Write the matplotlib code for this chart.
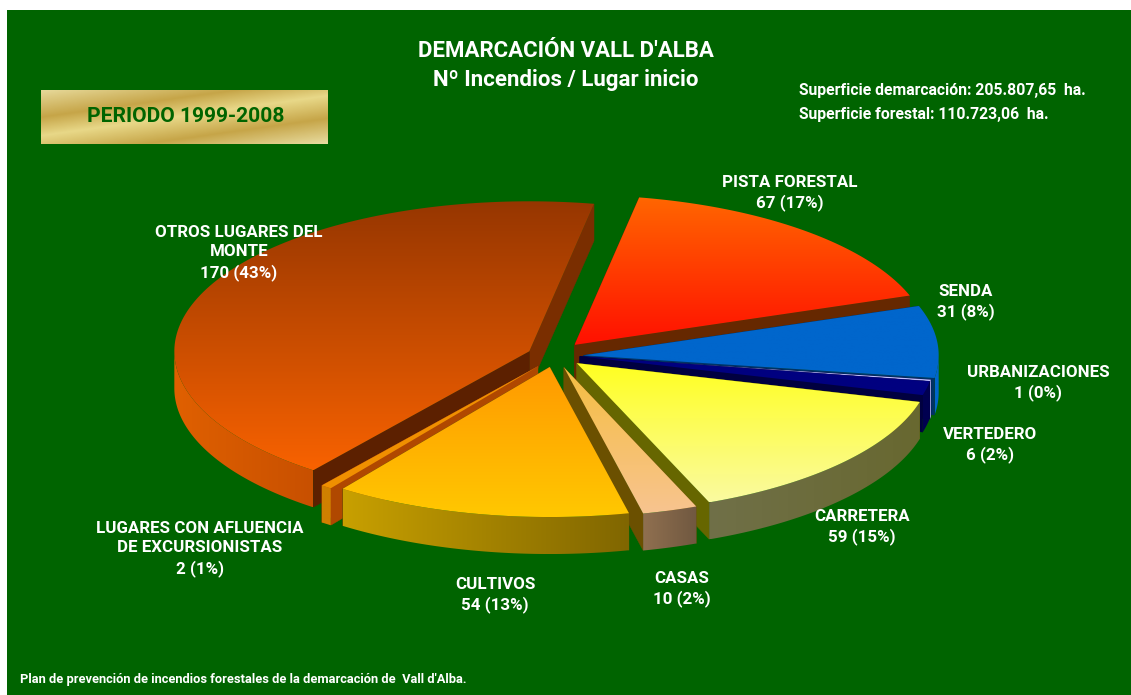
import matplotlib
matplotlib.use('Agg')
import matplotlib.pyplot as plt
import numpy as np
from matplotlib.colors import LinearSegmentedColormap
from matplotlib.patches import Rectangle
from matplotlib.path import Path

W, H = 1131, 695
plt.rcParams['font.family'] = ['Roboto', 'Liberation Sans', 'DejaVu Sans']

# ── Datos ────────────────────────────────────────────────
names = ['OTROS LUGARES DEL\nMONTE', 'LUGARES CON AFLUENCIA\nDE EXCURSIONISTAS', 'CULTIVOS', 'CASAS',
         'CARRETERA', 'VERTEDERO', 'URBANIZACIONES', 'SENDA', 'PISTA FORESTAL']
values = [170, 2, 54, 10, 59, 6, 1, 31, 67]
percents = [43, 1, 13, 2, 15, 2, 0, 8, 17]
explode = [0.11, 0.095, 0.075, 0.065, 0.052, 0.04, 0.04, 0.05, 0.08]
# ajuste fino de cada porción, en píxeles (x, y hacia arriba)
nudge = [(0, 0), (-7, 3), (-10, 2), (-8, 0), (-2, 0), (1, 3), (1, 2), (1, 2), (-9, 4)]

# arriba/abajo de la cara, borde izq/der, cara radial inicial y final
top_cols = [('#963600', '#F86200'), ('#F09000', '#F09000'), ('#FF9900', '#FFC800'), ('#F5BE40', '#F8C490'),
            ('#FFFF20', '#FAFAA0'), ('#000080', '#000080'), ('#C0C0FF', '#C0C0FF'), ('#0066CC', '#0066CC'),
            ('#FF6600', '#FF1000')]
rim_cols = [('#E06000', '#C85000'), ('#D08000', '#D08000'), ('#C8A000', '#806600'), ('#907050', '#705840'),
            ('#707048', '#686830'), ('#000050', '#000050'), ('#C0C0FF', '#C0C0FF'), ('#0066CC', '#0066CC'),
            ('#662800', '#662800')]
face_cols = [('#7A2E00', '#5C2000'), ('#B04800', '#B04800'), ('#705000', '#705000'), ('#6B5000', '#6B5000'),
             ('#666600', '#666600'), ('#000040', '#000040'), ('#000040', '#000040'), ('#003366', '#003366'),
             ('#662800', '#662800')]
draw_order = [8, 7, 6, 5, 4, 3, 0, 1, 2]

label_pos = [(239, 253), (200, 549), (495, 595), (682, 589), (862, 527), (990, 445), (1038, 383), (966, 302), (790, 193)]

fig = plt.figure(figsize=(W / 100, H / 100), dpi=100, facecolor='white')

def px(x, y):
    return x / W, 1 - y / H

# ── Fondo ────────────────────────────────────────────────
bg = fig.add_axes([0, 0, 1, 1])
bg.axis('off')
bg.add_patch(Rectangle((7, 10), W - 7, H - 10, color='#006400', lw=0, zorder=1))

# cartel dorado
gold = LinearSegmentedColormap.from_list('gold', [(0, '#E6D898'), (0.286, '#C6A548'), (0.486, '#E8D888'),
                                                  (0.731, '#C6A548'), (1, '#E8DCA0')])
xx, yy = np.meshgrid(np.linspace(0, 1, 200), np.linspace(0, 1, 60))
bg.imshow((yy + 0.75 * xx) / 1.75, cmap=gold, extent=[41, 328, 144, 90], aspect='auto', vmin=0, vmax=1, zorder=2)
bg.set_xlim(0, W)
bg.set_ylim(H, 0)

# ── Tarta ────────────────────────────────────────────────
RX, RY, CX, CY, DEPTH = 355, 150, 565, 358, 37
L = 1.5
ax = fig.add_axes([(CX - L * RX) / W, 1 - (CY + L * RY + 40) / H, 2 * L * RX / W, (2 * L * RY + 40) / H])
wedges, _ = ax.pie(values, explode=explode, startangle=79.5, radius=1, center=(0, 0))
ax.set_aspect('auto')
ax.patch.set_visible(False)
d = DEPTH / RY

def gradient(pts, cols, vertical=True, zorder=2):
    pts = np.asarray(pts)
    cmap = LinearSegmentedColormap.from_list('g', cols)
    x0, y0 = pts.min(axis=0)
    x1, y1 = pts.max(axis=0)
    arr = np.linspace(0, 1, 256).reshape(-1, 1) if vertical else np.linspace(0, 1, 256).reshape(1, -1)
    im = ax.imshow(arr, cmap=cmap, extent=[x0, x1, y0, y1], aspect='auto', vmin=0, vmax=1, zorder=zorder)
    im.set_clip_path(Path(np.vstack([pts, pts[0]]), closed=True), transform=ax.transData)

def arc(c, a, b):
    t = np.radians(np.linspace(a, b, 120))
    return np.column_stack([c[0] + np.cos(t), c[1] + np.sin(t)])

z = 2
for i in draw_order:
    w = wedges[i]
    w.set_visible(False)
    tip = np.array(w.center) + np.array(nudge[i]) / [RX, RY]
    a, b = w.theta1, w.theta2
    down = np.array([0, -d])
    for ang, col in zip((a, b), face_cols[i]):
        corner = tip + [np.cos(np.radians(ang)), np.sin(np.radians(ang))]
        ax.fill(*np.array([tip, corner, corner + down, tip + down]).T, color=col, lw=0.3, zorder=z)
        z += 1
    # borde exterior: solo la parte que mira hacia abajo
    for lo, hi in ((a, b), (a - 360, b - 360)):
        lo2, hi2 = max(lo, 180), min(hi, 360)
        if hi2 > lo2:
            rim = arc(tip, lo2, hi2)
            gradient(np.vstack([rim, (rim + down)[::-1]]), rim_cols[i], vertical=False, zorder=z)
            z += 1
    top = np.vstack([tip, arc(tip, a, b)])
    gradient(top, top_cols[i], zorder=z)
    z += 1
ax.set_xlim(-L, L)
ax.set_ylim(-L - 40 / RY, L)

# ── Textos ───────────────────────────────────────────────
def txt(x, y, s, size, color='white', ha='center'):
    fig.text(*px(x, y), s, fontsize=size, color=color, ha=ha, va='center', fontweight='bold',
             linespacing=22 / (size * 1.33))

txt(566, 51, "DEMARCACIÓN VALL D'ALBA", 16)
txt(566, 80, 'Nº Incendios / Lugar inicio', 16)
txt(799, 91, 'Superficie demarcación: 205.807,65  ha.', 11.3, ha='left')
txt(799, 114, 'Superficie forestal: 110.723,06  ha.', 11.3, ha='left')
txt(186, 117, 'PERIODO 1999-2008', 15.1, color='#006400')
txt(20, 679, "Plan de prevención de incendios forestales de la demarcación de  Vall d'Alba.", 9.3, ha='left')

for name, v, p, (x, y) in zip(names, values, percents, label_pos):
    txt(x, y, f'{name}\n{v} ({p}%)', 12.2)

fig.savefig('out.png', dpi=100, facecolor='white')
